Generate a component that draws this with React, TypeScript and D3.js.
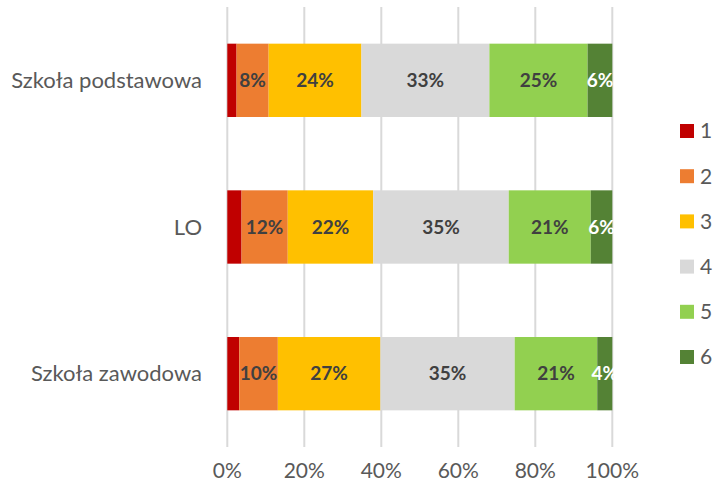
import React from "react";
import * as d3 from "d3";

const categories = ["Szkoła podstawowa", "LO", "Szkoła zawodowa"];
const seriesNames = ["1", "2", "3", "4", "5", "6"];
const seriesColors = ["#C00000", "#ED7D31", "#FFC000", "#D9D9D9", "#92D050", "#548235"];
const labelColors = ["#404040", "#404040", "#404040", "#404040", "#404040", "#FFFFFF"];
const values = [
  [2.4, 8.3, 24.0, 33.1, 25.4, 6.4],
  [3.7, 12.0, 22.2, 35.2, 21.3, 5.6],
  [3.1, 10.0, 26.6, 34.8, 21.4, 3.9],
];
const tickValues = [0, 0.2, 0.4, 0.6, 0.8, 1.0];

const W = 715;
const H = 489;
const FONT = "Lato, 'Open Sans', sans-serif";

export default function App() {
  const x = d3.scaleLinear().domain([0, 1]).range([227.3, 612.3]);
  const y = d3.scaleBand<string>().domain(categories).range([7, 447]).paddingInner(0.5).paddingOuter(0.25);
  const legendY = d3.scalePoint<string>().domain(seriesNames).range([131, 357]);

  const rows = categories.map((c, i) => {
    const total = d3.sum(values[i]);
    let acc = 0;
    return values[i].map((v, j) => {
      const x0 = acc / total;
      acc += v;
      const x1 = acc / total;
      return { c, j, v, x0, x1 };
    });
  });

  return (
    <svg width={W} height={H} style={{ position: "absolute", left: 0, top: 0, background: "#fff" }} fontFamily={FONT}>
      {tickValues.map((t) => (
        <line key={t} x1={x(t)} x2={x(t)} y1={7} y2={447} stroke="#D9D9D9" strokeWidth={2} />
      ))}
      {tickValues.map((t) => (
        <text key={"t" + t} x={x(t)} y={478} textAnchor="middle" fontSize={21} fill="#595959">
          {d3.format(".0%")(t)}
        </text>
      ))}
      {categories.map((c) => (
        <text key={c} x={202} y={(y(c) as number) + y.bandwidth() / 2} dy="0.35em" textAnchor="end" fontSize={22} fill="#595959">
          {c}
        </text>
      ))}
      {rows.map((segs) =>
        segs.map((s) => (
          <rect
            key={s.c + s.j}
            x={x(s.x0)}
            y={y(s.c)}
            width={x(s.x1) - x(s.x0)}
            height={y.bandwidth()}
            fill={seriesColors[s.j]}
          />
        ))
      )}
      {rows.map((segs) =>
        segs
          .filter((s) => s.j > 0)
          .map((s) => (
            <text
              key={"l" + s.c + s.j}
              x={(x(s.x0) + x(s.x1)) / 2}
              y={(y(s.c) as number) + y.bandwidth() / 2}
              dy="0.35em"
              textAnchor="middle"
              fontSize={19}
              fontWeight="bold"
              fill={labelColors[s.j]}
            >
              {Math.round(s.v) + "%"}
            </text>
          ))
      )}
      {seriesNames.map((n, j) => (
        <g key={"lg" + n}>
          <rect x={680} y={(legendY(n) as number) - 7} width={14} height={14} fill={seriesColors[j]} />
          <text x={700} y={legendY(n) as number} dy="0.35em" fontSize={21} fill="#595959">
            {n}
          </text>
        </g>
      ))}
    </svg>
  );
}
